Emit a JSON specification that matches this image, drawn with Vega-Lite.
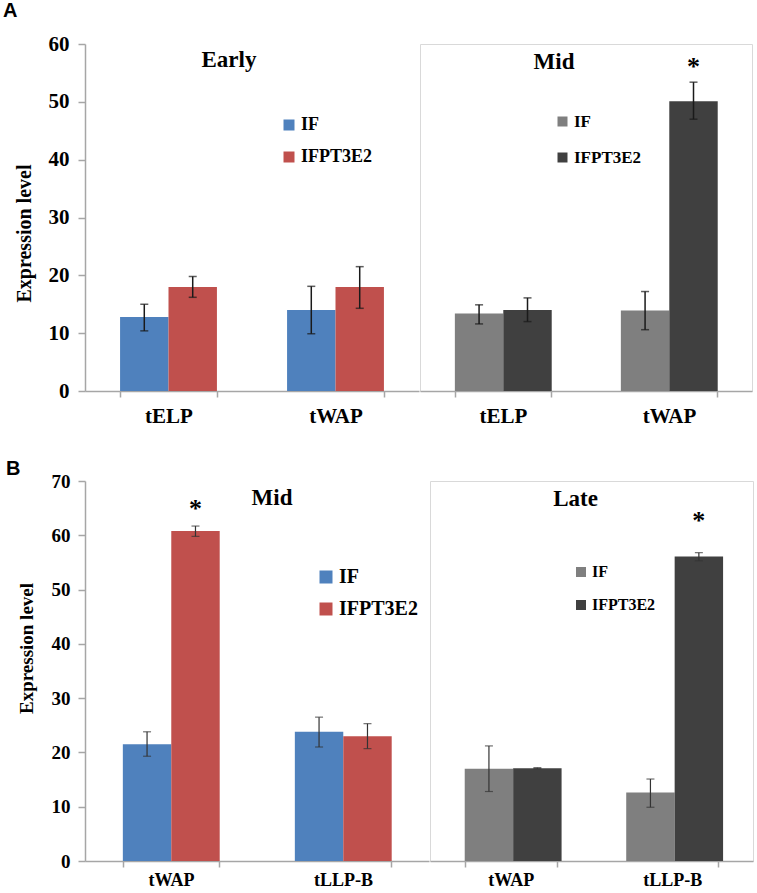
{
  "$schema": "https://vega.github.io/schema/vega-lite/v6.json",
  "padding": {"left": 3, "top": 1, "right": 0, "bottom": 0},
  "background": "white",
  "datasets": {
    "bars": [
      {"panel": "A1", "gene": "tELP", "group": "IF", "value": 12.8, "lo": 10.4, "hi": 15.0},
      {"panel": "A1", "gene": "tELP", "group": "IFPT3E2", "value": 18.0, "lo": 16.2, "hi": 19.8},
      {"panel": "A1", "gene": "tWAP", "group": "IF", "value": 14.0, "lo": 9.9, "hi": 18.1},
      {"panel": "A1", "gene": "tWAP", "group": "IFPT3E2", "value": 18.0, "lo": 14.3, "hi": 21.5},
      {"panel": "A2", "gene": "tELP", "group": "IF", "value": 13.4, "lo": 11.6, "hi": 14.9},
      {"panel": "A2", "gene": "tELP", "group": "IFPT3E2", "value": 14.0, "lo": 12.0, "hi": 16.1},
      {"panel": "A2", "gene": "tWAP", "group": "IF", "value": 13.9, "lo": 10.6, "hi": 17.2},
      {"panel": "A2", "gene": "tWAP", "group": "IFPT3E2", "value": 50.1, "lo": 47.0, "hi": 53.4},
      {"panel": "B1", "gene": "tWAP", "group": "IF", "value": 21.5, "lo": 19.3, "hi": 23.8},
      {"panel": "B1", "gene": "tWAP", "group": "IFPT3E2", "value": 60.8, "lo": 59.8, "hi": 61.7},
      {"panel": "B1", "gene": "tLLP-B", "group": "IF", "value": 23.8, "lo": 21.0, "hi": 26.5},
      {"panel": "B1", "gene": "tLLP-B", "group": "IFPT3E2", "value": 23.0, "lo": 20.7, "hi": 25.3},
      {"panel": "B2", "gene": "tWAP", "group": "IF", "value": 17.0, "lo": 12.8, "hi": 21.2},
      {"panel": "B2", "gene": "tWAP", "group": "IFPT3E2", "value": 17.1, "lo": 17.0, "hi": 17.2},
      {"panel": "B2", "gene": "tLLP-B", "group": "IF", "value": 12.6, "lo": 9.9, "hi": 15.1},
      {"panel": "B2", "gene": "tLLP-B", "group": "IFPT3E2", "value": 56.1, "lo": 55.3, "hi": 56.8}
    ],
    "stars": [
      {"panel": "A2", "gene": "tWAP", "group": "IFPT3E2", "pos": 57.1, "label": "*"},
      {"panel": "B1", "gene": "tWAP", "group": "IFPT3E2", "pos": 66.0, "label": "*"},
      {"panel": "B2", "gene": "tLLP-B", "group": "IFPT3E2", "pos": 63.7, "label": "*"}
    ]
  },
  "vconcat": [
    {
      "title": {"text": "A", "anchor": "start", "frame": "bounds", "font": "Liberation Sans", "fontSize": 20, "fontWeight": "bold", "dx": -11, "offset": 12},
      "spacing": 0,
      "hconcat": [
        {
          "width": 334, "height": 347,
          "view": {"stroke": null},
          "title": {"text": "Early", "offset": -39, "dx": -23},
          "encoding": {
            "x": {"field": "gene", "type": "nominal", "scale": {"domain": ["tELP", "tWAP"], "paddingInner": 0.42, "paddingOuter": 0.21}, "axis": {"title": null, "labelFont": "Liberation Serif", "labelFontSize": 21, "labelPadding": 8}},
            "xOffset": {"field": "group", "type": "nominal", "scale": {"domain": ["IF", "IFPT3E2"]}}
          },
          "layer": [
            {
              "data": {"name": "bars"},
              "transform": [{"filter": "datum.panel === 'A1'"}],
              "layer": [
                {"mark": {"type": "bar"},
                 "encoding": {
                   "y": {"field": "value", "type": "quantitative", "scale": {"domain": [0, 60], "nice": false}, "axis": {"title": "Expression level", "values": [0, 10, 20, 30, 40, 50, 60], "labelFont": "Liberation Serif", "titleFont": "Liberation Serif", "labelFontSize": 21, "titleFontSize": 20, "labelPadding": 9, "titlePadding": 14, "titleY": 189}},
                   "color": {"field": "group", "type": "nominal", "scale": {"domain": ["IF", "IFPT3E2"], "range": ["#4f81bd", "#c0504d"]},
                     "legend": {"orient": "none", "legendX": 195, "legendY": 72, "title": null, "labelFont": "Liberation Serif", "labelFontSize": 18, "symbolSize": 121, "rowPadding": 14}}
                 }},
                {"mark": {"type": "rule", "color": "#1a1a1a", "strokeWidth": 1.5},
                 "encoding": {"y": {"field": "lo", "type": "quantitative", "scale": {"domain": [0, 60], "nice": false}, "axis": {"title": "Expression level", "values": [0, 10, 20, 30, 40, 50, 60], "labelFont": "Liberation Serif", "titleFont": "Liberation Serif", "labelFontSize": 21, "titleFontSize": 20, "labelPadding": 9, "titlePadding": 14, "titleY": 189}}, "y2": {"field": "hi"}}},
                {"mark": {"type": "tick", "color": "#1a1a1a", "size": 8, "thickness": 1.5},
                 "encoding": {"y": {"field": "lo", "type": "quantitative", "scale": {"domain": [0, 60], "nice": false}, "axis": {"title": "Expression level", "values": [0, 10, 20, 30, 40, 50, 60], "labelFont": "Liberation Serif", "titleFont": "Liberation Serif", "labelFontSize": 21, "titleFontSize": 20, "labelPadding": 9, "titlePadding": 14, "titleY": 189}}}},
                {"mark": {"type": "tick", "color": "#1a1a1a", "size": 8, "thickness": 1.5},
                 "encoding": {"y": {"field": "hi", "type": "quantitative", "scale": {"domain": [0, 60], "nice": false}, "axis": {"title": "Expression level", "values": [0, 10, 20, 30, 40, 50, 60], "labelFont": "Liberation Serif", "titleFont": "Liberation Serif", "labelFontSize": 21, "titleFontSize": 20, "labelPadding": 9, "titlePadding": 14, "titleY": 189}}}}
              ]
            }
          ]
        },
        {
          "width": 332, "height": 347,
          "view": {"stroke": "#d9d9d9"},
          "title": {"text": "Mid", "offset": -30, "dx": -32},
          "encoding": {
            "x": {"field": "gene", "type": "nominal", "scale": {"domain": ["tELP", "tWAP"], "paddingInner": 0.42, "paddingOuter": 0.21}, "axis": {"title": null, "labelFont": "Liberation Serif", "labelFontSize": 21, "labelPadding": 8}},
            "xOffset": {"field": "group", "type": "nominal", "scale": {"domain": ["IF", "IFPT3E2"]}}
          },
          "layer": [
            {
              "data": {"name": "bars"},
              "transform": [{"filter": "datum.panel === 'A2'"}],
              "layer": [
                {"mark": {"type": "bar"},
                 "encoding": {
                   "y": {"field": "value", "type": "quantitative", "scale": {"domain": [0, 60], "nice": false}, "axis": null},
                   "color": {"field": "group", "type": "nominal", "scale": {"domain": ["IF", "IFPT3E2"], "range": ["#7f7f7f", "#404040"]},
                     "legend": {"orient": "none", "legendX": 134, "legendY": 69, "title": null, "labelFont": "Liberation Serif", "labelFontSize": 17, "symbolSize": 100, "rowPadding": 18}}
                 }},
                {"mark": {"type": "rule", "color": "#1a1a1a", "strokeWidth": 1.5},
                 "encoding": {"y": {"field": "lo", "type": "quantitative", "scale": {"domain": [0, 60], "nice": false}, "axis": null}, "y2": {"field": "hi"}}},
                {"mark": {"type": "tick", "color": "#1a1a1a", "size": 8, "thickness": 1.5},
                 "encoding": {"y": {"field": "lo", "type": "quantitative", "scale": {"domain": [0, 60], "nice": false}, "axis": null}}},
                {"mark": {"type": "tick", "color": "#1a1a1a", "size": 8, "thickness": 1.5},
                 "encoding": {"y": {"field": "hi", "type": "quantitative", "scale": {"domain": [0, 60], "nice": false}, "axis": null}}}
              ]
            },
            {
              "data": {"name": "stars"},
              "transform": [{"filter": "datum.panel === 'A2'"}],
              "mark": {"type": "text", "font": "Liberation Serif", "fontSize": 26, "fontWeight": "bold", "baseline": "middle", "dy": 6},
              "encoding": {"y": {"field": "pos", "type": "quantitative", "scale": {"domain": [0, 60], "nice": false}, "axis": null}, "text": {"field": "label"}}
            }
          ]
        }
      ],
      "resolve": {"scale": {"color": "independent"}, "legend": {"color": "independent"}}
    },
    {
      "title": {"text": "B", "anchor": "start", "frame": "bounds", "font": "Liberation Sans", "fontSize": 20, "fontWeight": "bold", "dx": -11, "offset": -7},
      "spacing": 0,
      "hconcat": [
        {
          "width": 344, "height": 380,
          "view": {"stroke": null},
          "title": {"text": "Mid", "offset": -38, "dx": 15},
          "encoding": {
            "x": {"field": "gene", "type": "nominal", "scale": {"domain": ["tWAP", "tLLP-B"], "paddingInner": 0.44, "paddingOuter": 0.22}, "axis": {"title": null, "labelFont": "Liberation Serif", "labelFontSize": 18, "labelPadding": 4}},
            "xOffset": {"field": "group", "type": "nominal", "scale": {"domain": ["IF", "IFPT3E2"]}}
          },
          "layer": [
            {
              "data": {"name": "bars"},
              "transform": [{"filter": "datum.panel === 'B1'"}],
              "layer": [
                {"mark": {"type": "bar"},
                 "encoding": {
                   "y": {"field": "value", "type": "quantitative", "scale": {"domain": [0, 70], "nice": false}, "axis": {"title": "Expression level", "values": [0, 10, 20, 30, 40, 50, 60, 70], "titleFontSize": 19, "labelFontSize": 19, "labelFont": "Liberation Serif", "titleFont": "Liberation Serif", "labelPadding": 8, "titlePadding": 15, "titleY": 167}},
                   "color": {"field": "group", "type": "nominal", "scale": {"domain": ["IF", "IFPT3E2"], "range": ["#4f81bd", "#c0504d"]},
                     "legend": {"orient": "none", "legendX": 231, "legendY": 86, "title": null, "labelFont": "Liberation Serif", "labelFontSize": 20, "symbolSize": 169, "rowPadding": 12}}
                 }},
                {"mark": {"type": "rule", "color": "#333333", "strokeWidth": 1.2},
                 "encoding": {"y": {"field": "lo", "type": "quantitative", "scale": {"domain": [0, 70], "nice": false}, "axis": {"title": "Expression level", "values": [0, 10, 20, 30, 40, 50, 60, 70], "titleFontSize": 19, "labelFontSize": 19, "labelFont": "Liberation Serif", "titleFont": "Liberation Serif", "labelPadding": 8, "titlePadding": 15, "titleY": 167}}, "y2": {"field": "hi"}}},
                {"mark": {"type": "tick", "color": "#333333", "size": 8, "thickness": 1.2},
                 "encoding": {"y": {"field": "lo", "type": "quantitative", "scale": {"domain": [0, 70], "nice": false}, "axis": {"title": "Expression level", "values": [0, 10, 20, 30, 40, 50, 60, 70], "titleFontSize": 19, "labelFontSize": 19, "labelFont": "Liberation Serif", "titleFont": "Liberation Serif", "labelPadding": 8, "titlePadding": 15, "titleY": 167}}}},
                {"mark": {"type": "tick", "color": "#333333", "size": 8, "thickness": 1.2},
                 "encoding": {"y": {"field": "hi", "type": "quantitative", "scale": {"domain": [0, 70], "nice": false}, "axis": {"title": "Expression level", "values": [0, 10, 20, 30, 40, 50, 60, 70], "titleFontSize": 19, "labelFontSize": 19, "labelFont": "Liberation Serif", "titleFont": "Liberation Serif", "labelPadding": 8, "titlePadding": 15, "titleY": 167}}}}
              ]
            },
            {
              "data": {"name": "stars"},
              "transform": [{"filter": "datum.panel === 'B1'"}],
              "mark": {"type": "text", "font": "Liberation Serif", "fontSize": 26, "fontWeight": "bold", "baseline": "middle", "dy": 6},
              "encoding": {"y": {"field": "pos", "type": "quantitative", "scale": {"domain": [0, 70], "nice": false}, "axis": {"title": "Expression level", "values": [0, 10, 20, 30, 40, 50, 60, 70], "titleFontSize": 19, "labelFontSize": 19, "labelFont": "Liberation Serif", "titleFont": "Liberation Serif", "labelPadding": 8, "titlePadding": 15, "titleY": 167}}, "text": {"field": "label"}}
            }
          ]
        },
        {
          "width": 323, "height": 380,
          "view": {"stroke": "#d9d9d9"},
          "title": {"text": "Late", "offset": -30, "dx": -16},
          "encoding": {
            "x": {"field": "gene", "type": "nominal", "scale": {"domain": ["tWAP", "tLLP-B"], "paddingInner": 0.43, "paddingOuter": 0.215}, "axis": {"title": null, "labelFont": "Liberation Serif", "labelFontSize": 18, "labelPadding": 4}},
            "xOffset": {"field": "group", "type": "nominal", "scale": {"domain": ["IF", "IFPT3E2"]}}
          },
          "layer": [
            {
              "data": {"name": "bars"},
              "transform": [{"filter": "datum.panel === 'B2'"}],
              "layer": [
                {"mark": {"type": "bar"},
                 "encoding": {
                   "y": {"field": "value", "type": "quantitative", "scale": {"domain": [0, 70], "nice": false}, "axis": null},
                   "color": {"field": "group", "type": "nominal", "scale": {"domain": ["IF", "IFPT3E2"], "range": ["#7f7f7f", "#404040"]},
                     "legend": {"orient": "none", "legendX": 143, "legendY": 83, "title": null, "labelFont": "Liberation Serif", "labelFontSize": 16, "symbolSize": 100, "rowPadding": 17}}
                 }},
                {"mark": {"type": "rule", "color": "#333333", "strokeWidth": 1.2},
                 "encoding": {"y": {"field": "lo", "type": "quantitative", "scale": {"domain": [0, 70], "nice": false}, "axis": null}, "y2": {"field": "hi"}}},
                {"mark": {"type": "tick", "color": "#333333", "size": 8, "thickness": 1.2},
                 "encoding": {"y": {"field": "lo", "type": "quantitative", "scale": {"domain": [0, 70], "nice": false}, "axis": null}}},
                {"mark": {"type": "tick", "color": "#333333", "size": 8, "thickness": 1.2},
                 "encoding": {"y": {"field": "hi", "type": "quantitative", "scale": {"domain": [0, 70], "nice": false}, "axis": null}}}
              ]
            },
            {
              "data": {"name": "stars"},
              "transform": [{"filter": "datum.panel === 'B2'"}],
              "mark": {"type": "text", "font": "Liberation Serif", "fontSize": 26, "fontWeight": "bold", "baseline": "middle", "dy": 6},
              "encoding": {"y": {"field": "pos", "type": "quantitative", "scale": {"domain": [0, 70], "nice": false}, "axis": null}, "text": {"field": "label"}}
            }
          ]
        }
      ],
      "resolve": {"scale": {"color": "independent"}, "legend": {"color": "independent"}}
    }
  ],
  "spacing": 32,
  "config": {
    "font": "Liberation Serif",
    "view": {"stroke": null},
    "title": {"font": "Liberation Serif", "fontSize": 23, "fontWeight": "bold", "color": "#000000"},
    "text": {"font": "Liberation Serif", "color": "#000000"},
    "axis": {
      "grid": false,
      "domainColor": "#a6a6a6", "domainWidth": 1.5,
      "tickColor": "#a6a6a6", "tickWidth": 1.5, "tickSize": 7,
      "labelFont": "Liberation Serif", "labelFontWeight": "bold", "labelFontSize": 19, "labelColor": "#000000",
      "labelPadding": 8,
      "titleFont": "Liberation Serif", "titleFontWeight": "bold", "titleFontSize": 15, "titleColor": "#000000", "titlePadding": 10
    },
    "axisX": {"tickBand": "extent", "labelAngle": 0, "tickSize": 6},
    "legend": {"labelFont": "Liberation Serif", "labelFontWeight": "bold", "labelColor": "#000000", "symbolType": "square", "symbolStrokeWidth": 0, "labelOffset": 3, "padding": 0}
  }
}
